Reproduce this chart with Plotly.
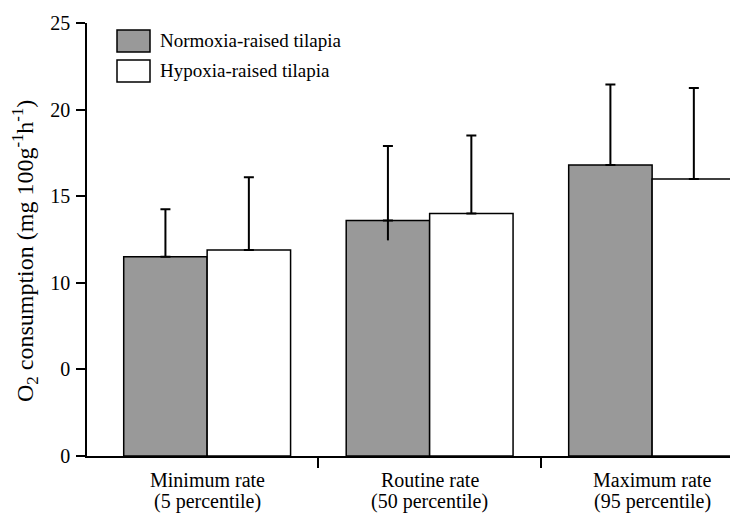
import plotly.graph_objects as go

cat_line1 = ["Minimum rate", "Routine rate", "Maximum rate"]
cat_line2 = ["(5 percentile)", "(50 percentile)", "(95 percentile)"]
cat_pos = [0, 1, 2]
normoxia = [11.5, 13.6, 16.8]
normoxia_err_up = [2.75, 4.3, 4.65]
normoxia_err_down = [0, 1.15, 0]
hypoxia = [11.9, 14.0, 16.0]
hypoxia_err_up = [4.2, 4.5, 5.25]
ytick_vals = [0, 5, 10, 15, 20, 25]
ytick_text = ["0", "0", "10", "15", "20", "25"]
series_names = ["Normoxia-raised tilapia", "Hypoxia-raised tilapia"]
y_title = "O<sub>2</sub> consumption (mg 100g<sup>-1</sup>h<sup>-1</sup>)"

FONT = "Liberation Serif"
GRAY = "#999999"

# page body adds an 8px offset; compensate in margins
OFF = 8
L, T = 87 - OFF, 23 - OFF
PW, PH = 651, 433
W, H = 738, 514

fig = go.Figure()
fig.add_trace(go.Bar(
    x=cat_pos, y=normoxia, name=series_names[0], offsetgroup="n",
    marker=dict(color=GRAY, line=dict(color="black", width=1.5)),
    error_y=dict(type="data", array=normoxia_err_up, arrayminus=[0, 0, 0], symmetric=False,
                 color="black", thickness=2, width=5),
    showlegend=False,
))
fig.add_trace(go.Bar(
    x=cat_pos, y=hypoxia, name=series_names[1], offsetgroup="h",
    marker=dict(color="white", line=dict(color="black", width=1.5)),
    error_y=dict(type="data", array=hypoxia_err_up, arrayminus=[0, 0, 0], symmetric=False,
                 color="black", thickness=2, width=5),
    showlegend=False,
))
# lower error whisker (no cap) for normoxia
fig.add_trace(go.Bar(
    x=cat_pos, y=normoxia, offsetgroup="n",
    marker=dict(color="rgba(0,0,0,0)", line=dict(width=0)),
    error_y=dict(type="data", array=[0, 0, 0], arrayminus=normoxia_err_down, symmetric=False,
                 color="black", thickness=2, width=0),
    showlegend=False, hoverinfo="skip",
))

fig.update_layout(
    width=W, height=H,
    margin=dict(l=L, r=W - L - PW, t=T, b=H - T - PH, autoexpand=False),
    paper_bgcolor="white", plot_bgcolor="white",
    barmode="group", bargap=0.25, bargroupgap=0,
    font=dict(family=FONT, size=19, color="black"),
)
fig.update_xaxes(
    range=[-0.54, 2.386], tickvals=cat_pos, showticklabels=False,
    ticks="", showgrid=False, zeroline=False,
    showline=True, linecolor="black", linewidth=1.5,
    minor=dict(tickvals=[0.5, 1.5], ticks="outside", ticklen=10, tickcolor="black", tickwidth=1.5),
)
fig.update_yaxes(
    range=[0, 25], tickvals=ytick_vals, ticktext=ytick_text,
    ticks="outside", ticklen=9, tickcolor="black", tickwidth=1.5,
    showgrid=False, zeroline=False,
    showline=True, linecolor="black", linewidth=1.5,
    tickfont=dict(family=FONT, size=20),
    ticklabelstandoff=2,
)

# category labels (two lines, tight spacing)
for x, l1, l2 in zip(cat_pos, cat_line1, cat_line2):
    fig.add_annotation(x=x, xref="x", y=0, yref="paper", text=l1, showarrow=False,
                       xanchor="center", yanchor="middle", yshift=-24,
                       font=dict(family=FONT, size=20))
    fig.add_annotation(x=x, xref="x", y=0, yref="paper", text=l2, showarrow=False,
                       xanchor="center", yanchor="middle", yshift=-45,
                       font=dict(family=FONT, size=20))

# y axis title
fig.add_annotation(x=-(87 - 25) / PW, xref="paper", y=(456 - 251) / PH, yref="paper",
                   text=y_title, textangle=-90, showarrow=False,
                   xanchor="center", yanchor="middle", font=dict(family=FONT, size=24))

# legend drawn manually with large boxes
legend_fill = [GRAY, "white"]
for i, (name, fill) in enumerate(zip(series_names, legend_fill)):
    y0 = 1 - (7 + i * 30) / PH
    y1 = y0 - 22 / PH
    x0 = (117 - 87) / PW
    x1 = (150 - 87) / PW
    fig.add_shape(type="rect", xref="paper", yref="paper", x0=x0, x1=x1, y0=y1, y1=y0,
                  fillcolor=fill, line=dict(color="black", width=1.5))
    fig.add_annotation(xref="paper", yref="paper", x=(158 - 87) / PW, y=(y0 + y1) / 2,
                       text=name, showarrow=False, xanchor="left", yanchor="middle",
                       font=dict(family=FONT, size=19))

fig.write_html("out.html")
